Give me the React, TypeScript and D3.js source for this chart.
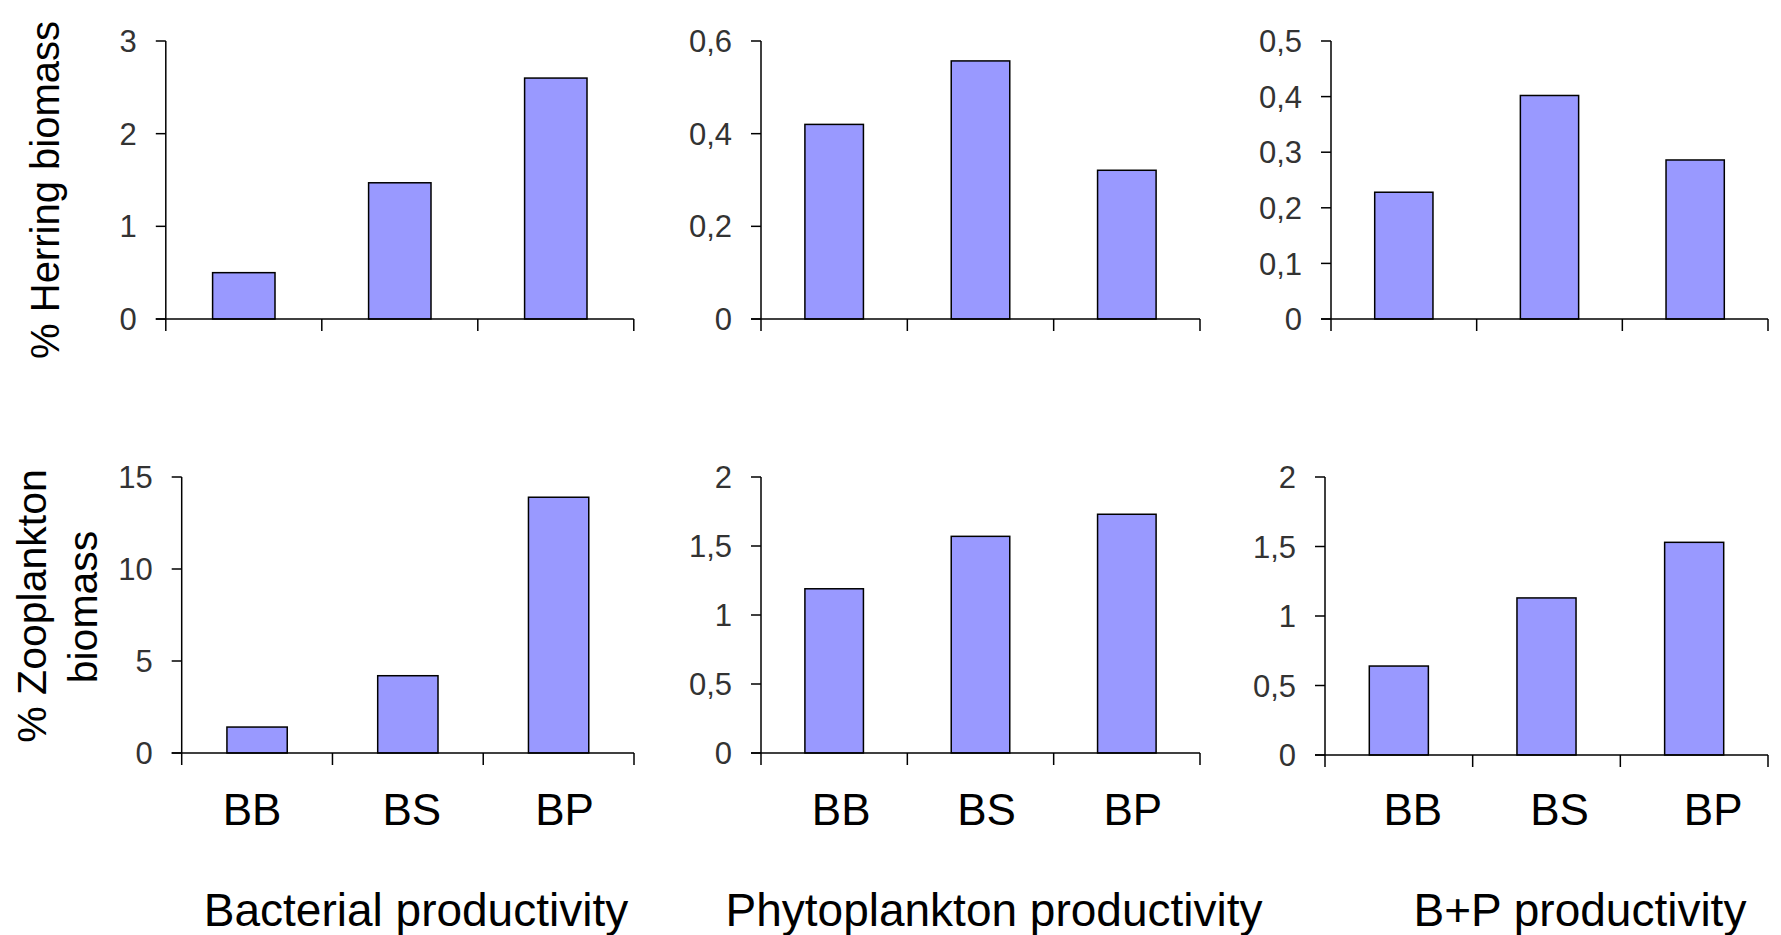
import * as d3 from 'd3';
import React from 'react';

const categories = ["BB", "BS", "BP"];

// % Herring biomass
const herringBacterial = [0.5, 1.47, 2.6];
const herringPhyto = [0.42, 0.557, 0.321];
const herringBP = [0.228, 0.402, 0.286];

// % Zooplankton biomass
const zooBacterial = [1.41, 4.2, 13.9];
const zooPhyto = [1.19, 1.57, 1.73];
const zooBP = [0.64, 1.13, 1.53];

const ticksHerringBacterial = [0, 1, 2, 3];
const ticksHerringPhyto = [0, 0.2, 0.4, 0.6];
const ticksHerringBP = [0, 0.1, 0.2, 0.3, 0.4, 0.5];
const ticksZooBacterial = [0, 5, 10, 15];
const ticksZooPhyto = [0, 0.5, 1, 1.5, 2];
const ticksZooBP = [0, 0.5, 1, 1.5, 2];

const productivityTitles = ["Bacterial productivity", "Phytoplankton productivity", "B+P productivity"];

const W = 1781, H = 935;
const FONT = "'Liberation Sans', Arial, sans-serif";
const BAR_FILL = "#9999ff";

const fmt = (v: number) => String(v).replace(".", ",");

type PanelProps = {
  values: number[];
  ticks: number[];
  x0: number; x1: number; yTop: number; yZero: number;
  showLabels: boolean;
  labelShift?: number[];
};

const Panel = ({ values, ticks, x0, x1, yTop, yZero, showLabels, labelShift = [0, 0, 0] }: PanelProps) => {
  const x = d3.scaleBand().domain(categories).range([x0, x1]).paddingInner(0.6).paddingOuter(0.3);
  const y = d3.scaleLinear().domain([0, d3.max(ticks)!]).range([yZero, yTop]);
  const edges = d3.range(categories.length + 1).map(i => x0 + (i * (x1 - x0)) / categories.length);

  return (
    <g>
      {values.map((v, i) => (
        <rect key={i} x={x(categories[i])} y={y(v)} width={x.bandwidth()} height={yZero - y(v)}
          fill={BAR_FILL} stroke="#000" strokeWidth={1.5} />
      ))}
      <line x1={x0} x2={x0} y1={yTop} y2={yZero} stroke="#000" strokeWidth={1.5} />
      <line x1={x0 - 10} x2={x1} y1={yZero} y2={yZero} stroke="#000" strokeWidth={1.5} />
      {ticks.map(t => (
        <g key={t}>
          <line x1={x0 - 10} x2={x0} y1={y(t)} y2={y(t)} stroke="#000" strokeWidth={1.5} />
          <text x={x0 - 29} y={y(t)} dy="0.36em" textAnchor="end" fontSize={31} fill="#333" fontFamily={FONT}>{fmt(t)}</text>
        </g>
      ))}
      {edges.map((e, i) => (
        <line key={i} x1={e} x2={e} y1={yZero} y2={yZero + 12} stroke="#000" strokeWidth={1.5} />
      ))}
      {showLabels && categories.map((c, i) => (
        <text key={c} x={x(c)! + x.bandwidth() / 2 + labelShift[i]} y={809} dy="0.36em" textAnchor="middle"
          fontSize={44} fill="#000" fontFamily={FONT}>{c}</text>
      ))}
    </g>
  );
};

export default function App() {
  const cols = [
    { top: [165.8, 633.8], bottom: [181.7, 634], shift: [-5, 4, 6] },
    { top: [761, 1200], bottom: [761, 1200], shift: [7, 6, 6] },
    { top: [1331, 1768], bottom: [1325, 1768], shift: [14, 13, 19] },
  ];
  const topVals = [herringBacterial, herringPhyto, herringBP];
  const topTicks = [ticksHerringBacterial, ticksHerringPhyto, ticksHerringBP];
  const botVals = [zooBacterial, zooPhyto, zooBP];
  const botTicks = [ticksZooBacterial, ticksZooPhyto, ticksZooBP];
  const titleX = [416, 994, 1580];

  return (
    <div style={{ position: 'absolute', left: 0, top: 0 }}>
      <svg width={W} height={H} style={{ display: 'block', background: '#fff' }}>
        {cols.map((c, i) => (
          <Panel key={'t' + i} values={topVals[i]} ticks={topTicks[i]} x0={c.top[0]} x1={c.top[1]}
            yTop={41} yZero={319} showLabels={false} />
        ))}
        {cols.map((c, i) => (
          <Panel key={'b' + i} values={botVals[i]} ticks={botTicks[i]} x0={c.bottom[0]} x1={c.bottom[1]}
            yTop={477} yZero={i === 2 ? 755 : 753} showLabels={true} labelShift={c.shift} />
        ))}
        <text transform="translate(59,190) rotate(-90)" textAnchor="middle" fontSize={40} fontFamily={FONT} fill="#000">% Herring biomass</text>
        <text transform="translate(46,606) rotate(-90)" textAnchor="middle" fontSize={41} fontFamily={FONT} fill="#000">% Zooplankton</text>
        <text transform="translate(97,607) rotate(-90)" textAnchor="middle" fontSize={41} fontFamily={FONT} fill="#000">biomass</text>
        {productivityTitles.map((t, i) => (
          <text key={t} x={titleX[i]} y={909} dy="0.36em" textAnchor="middle" fontSize={46} fontFamily={FONT} fill="#000">{t}</text>
        ))}
      </svg>
    </div>
  );
}
